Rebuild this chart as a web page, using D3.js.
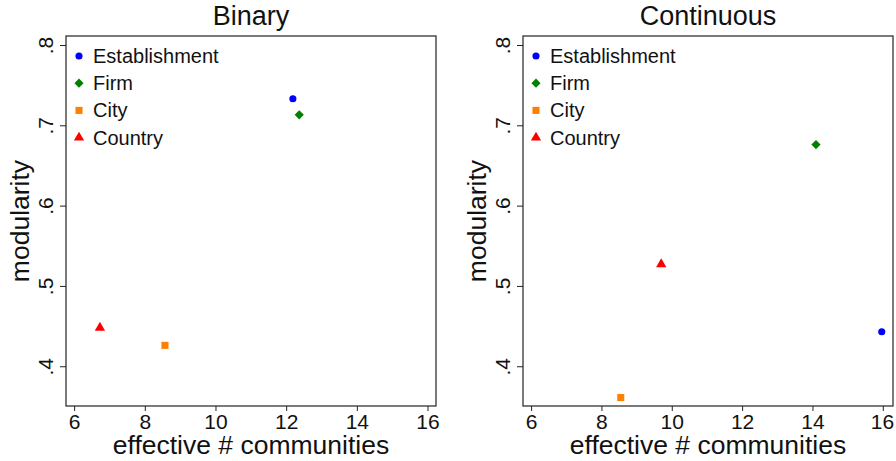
<!DOCTYPE html>
<html>
<head>
<meta charset="utf-8">
<script src="https://cdn.jsdelivr.net/npm/d3@7"></script>
<style>
  body { margin: 0; background: #fff; }
  svg { display: block; font-family: "Liberation Sans", Arial, sans-serif; }
</style>
</head>
<body>
<svg id="chart" width="896" height="461"></svg>
<script>
// data
const categories = ["Establishment", "Firm", "City", "Country"];
const colors = ["#0000ff", "#008000", "#ff7f00", "#ff0000"];
const binaryX = [12.19, 12.37, 8.57, 6.73];
const binaryY = [0.733, 0.713, 0.426, 0.448];
const continuousX = [15.97, 14.1, 8.55, 9.70];
const continuousY = [0.443, 0.676, 0.361, 0.527];
const xTicks = [6, 8, 10, 12, 14, 16];
const yTicks = [0.4, 0.5, 0.6, 0.7, 0.8];

const panels = [
  {title: "Binary", xs: binaryX, ys: binaryY, left: 66, right: 436, xdom: [5.77, 16.24]},
  {title: "Continuous", xs: continuousX, ys: continuousY, left: 523, right: 893, xdom: [5.77, 16.29]}
];

const svg = d3.select("#chart");
const plotTop = 36, plotBottom = 406;

// diamond = square turned 45 degrees (stata style), not d3's tall diamond
const symbols = [d3.symbolCircle, d3.symbolSquare, d3.symbolSquare, d3.symbolTriangle];
const sizes = [40, 42, 50, 46];
const rotations = [0, 45, 0, 0];

function marker(sel, xf, yf) {
  sel.attr("transform", (d, i) => `translate(${xf(d, i)},${yf(d, i)}) rotate(${rotations[i]})`)
    .attr("d", (d, i) => d3.symbol(symbols[i], sizes[i])())
    .attr("fill", (d, i) => colors[i]);
}

panels.forEach(p => {
  const x = d3.scaleLinear().domain(p.xdom).range([p.left, p.right]);
  const y = d3.scaleLinear().domain([0.3505, 0.8112]).range([plotBottom, plotTop]);

  const g = svg.append("g");

  g.append("rect")
    .attr("x", p.left).attr("y", plotTop)
    .attr("width", p.right - p.left).attr("height", plotBottom - plotTop)
    .attr("fill", "none").attr("stroke", "#222").attr("stroke-width", 1.2);

  // x axis
  const xa = g.append("g")
    .attr("transform", `translate(0,${plotBottom})`)
    .call(d3.axisBottom(x).tickValues(xTicks).tickSize(5).tickPadding(3).tickFormat(d3.format("d")));
  xa.select(".domain").remove();
  xa.selectAll("line").attr("stroke", "#222");
  xa.selectAll("text").attr("font-size", 21).attr("fill", "#111")
    .attr("font-family", "Liberation Sans, Arial, sans-serif");
  // keep the last label inside the page
  xa.selectAll("text").each(function(d) {
    const over = x(d) + 12 - 894;
    if (over > 0) d3.select(this).attr("x", -over);
  });

  // y axis with rotated labels
  const ya = g.append("g")
    .attr("transform", `translate(${p.left},0)`)
    .call(d3.axisLeft(y).tickValues(yTicks).tickSize(6).tickFormat(d => d3.format(".1f")(d).replace(/^0/, "")));
  ya.select(".domain").remove();
  ya.selectAll("line").attr("stroke", "#222");
  ya.selectAll("text")
    .attr("font-size", 21).attr("fill", "#111")
    .attr("font-family", "Liberation Sans, Arial, sans-serif")
    .attr("x", null).attr("dy", null)
    .attr("text-anchor", "middle")
    .attr("transform", "translate(-13,0) rotate(-90)");

  g.append("text")
    .attr("x", (p.left + p.right) / 2).attr("y", 25)
    .attr("text-anchor", "middle")
    .attr("font-size", 27).attr("fill", "#111")
    .text(p.title);

  g.append("text")
    .attr("x", (p.left + p.right) / 2).attr("y", 454)
    .attr("text-anchor", "middle")
    .attr("font-size", 26.5).attr("fill", "#111")
    .text("effective # communities");

  g.append("text")
    .attr("transform", `translate(${p.left - 37},${(plotTop + plotBottom) / 2}) rotate(-90)`)
    .attr("text-anchor", "middle")
    .attr("font-size", 26.5).attr("fill", "#111")
    .text("modularity");

  // points
  g.selectAll(".pt")
    .data(categories)
    .join("path")
    .attr("class", "pt")
    .call(marker, (d, i) => x(p.xs[i]), (d, i) => y(p.ys[i]));

  // legend
  const lg = g.selectAll(".leg")
    .data(categories)
    .join("g")
    .attr("class", "leg")
    .attr("transform", (d, i) => `translate(${p.left + 13},${56 + i * 27.2})`);
  lg.append("path")
    .call(marker, () => 0, () => 0);
  lg.append("text")
    .attr("x", 14).attr("y", 7)
    .attr("font-size", 20).attr("fill", "#111")
    .text(d => d);
});
</script>
</body>
</html>
